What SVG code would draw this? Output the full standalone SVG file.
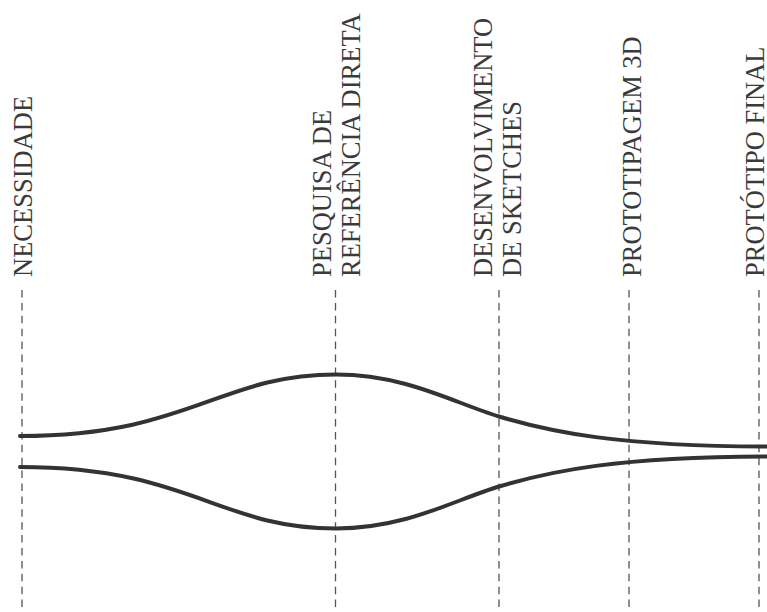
<svg xmlns="http://www.w3.org/2000/svg" width="767" height="612" viewBox="0 0 767 612">
  <style>
    .guide { stroke: #555; stroke-width: 1.3; stroke-dasharray: 7.5 5.4; fill: none; }
    .label { font-family: "Liberation Serif", "Times New Roman", serif; font-size: 26.5px; fill: #3a3a3a; }
    .edge { stroke: #333; stroke-width: 4; fill: none; stroke-linecap: round; }
  </style>
  <rect width="767" height="612" fill="#fff"/>

  <!-- process stages: dashed guide plus rotated label -->
  <g id="stage-necessidade">
    <line class="guide" x1="22" y1="290" x2="22" y2="612"/>
    <text class="label" transform="translate(32,277) rotate(-90)">NECESSIDADE</text>
  </g>
  <g id="stage-pesquisa">
    <line class="guide" x1="335.5" y1="290" x2="335.5" y2="612"/>
    <text class="label" transform="translate(331,277) rotate(-90)">PESQUISA DE</text>
    <text class="label" transform="translate(360,277) rotate(-90)">REFERÊNCIA DIRETA</text>
  </g>
  <g id="stage-sketches">
    <line class="guide" x1="499" y1="290" x2="499" y2="612"/>
    <text class="label" transform="translate(492,277) rotate(-90)">DESENVOLVIMENTO</text>
    <text class="label" transform="translate(521,277) rotate(-90)">DE SKETCHES</text>
  </g>
  <g id="stage-prototipagem">
    <line class="guide" x1="629" y1="290" x2="629" y2="612"/>
    <text class="label" transform="translate(641,277) rotate(-90)">PROTOTIPAGEM 3D</text>
  </g>
  <g id="stage-final">
    <line class="guide" x1="759" y1="290" x2="759" y2="612"/>
    <text class="label" transform="translate(764,277) rotate(-90)">PROTÓTIPO FINAL</text>
  </g>

  <!-- diverge / converge envelope -->
  <g id="connectors">
    <path class="edge" d="M20,436 C190,436 219,374.5 336,374.5 C406,374.5 454,403 499,416.5 C549,431.5 617,446.5 770,446.5"/>
    <path class="edge" d="M20,467 C190,467 219,528.5 336,528.5 C406,528.5 454,500 499,486.5 C549,471.5 617,456.5 770,456.5"/>
  </g>
</svg>
